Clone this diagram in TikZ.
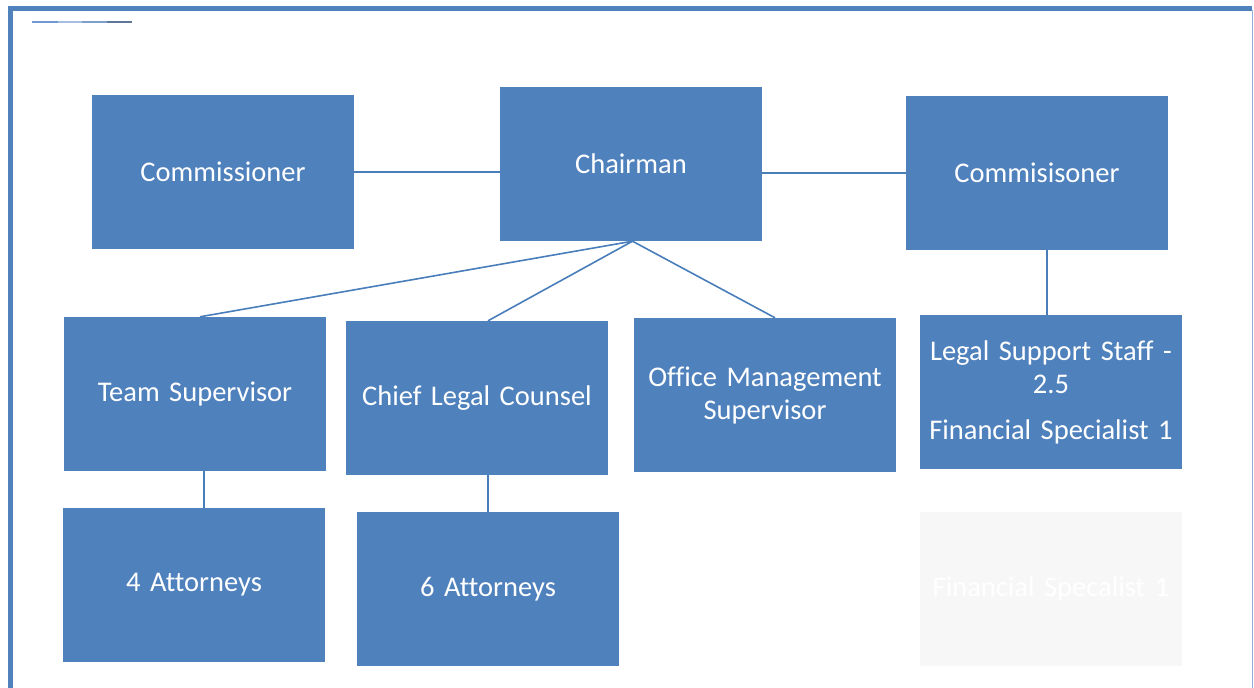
\documentclass[tikz,border=0pt]{standalone}
\usepackage{fontspec}
\setmainfont{Carlito}[Ligatures={NoCommon}]
\definecolor{boxblue}{HTML}{4F81BD}
\definecolor{linkblue}{HTML}{4A7EBB}
\definecolor{ghostgray}{HTML}{F7F7F7}
\definecolor{thinblue}{HTML}{8EB0DA}
\definecolor{markA}{HTML}{6E9AD0}
\definecolor{markB}{HTML}{A6BEDF}
\definecolor{markC}{HTML}{7E9FCB}
\definecolor{markD}{HTML}{5C7896}
\begin{document}
\begin{tikzpicture}[x=1pt,y=-1pt,
  orgbox/.style={fill=boxblue, draw=none, minimum width=262pt, minimum height=154pt,
    text width=250pt, align=center, text=white, inner sep=0pt,
    font=\fontsize{28.5}{33}\selectfont},
  ghostbox/.style={orgbox, fill=ghostgray},
  link/.style={draw=linkblue, line width=1.6pt}]
\useasboundingbox (0,0) rectangle (1254,688);
% frame
\draw[boxblue, line width=5pt] (10.8,688) -- (10.8,8.2) -- (1252,8.2);
\draw[thinblue, line width=1.2pt] (1252.7,10) -- (1252.7,688);
% small top-left mark
\draw[line width=2pt, color=markA] (32,21.5) -- (58,21.5);
\draw[line width=2pt, color=markB] (58,21.5) -- (82,21.5);
\draw[line width=2pt, color=markC] (82,21.5) -- (107,21.5);
\draw[line width=2pt, color=markD] (107,21.5) -- (132,21.5);
% boxes
\node[orgbox] (c1) at (223,172) {Commissioner};
\node[orgbox] (ch) at (631,164) {Chairman};
\node[orgbox] (c2) at (1037,173) {Commisisoner};
\node[orgbox] (ts) at (195,394) {Team Supervisor};
\node[orgbox] (cl) at (477,398) {Chief Legal Counsel};
\node[orgbox] (om) at (765,395) {Office Management\\Supervisor};
\node[orgbox] (ls) at (1051,392) {Legal Support Staff -\\2.5\\[13pt]Financial Specialist 1};
\node[orgbox] (fa) at (194,585) {4 Attorneys};
\node[orgbox] (sa) at (488,589) {6 Attorneys};
\node[ghostbox] (gh) at (1051,589) {Financial Specalist 1};
% connectors
\draw[link] (c1.east) -- (c1.east -| ch.west);
\draw[link] (c2.west -| ch.east) -- (c2.west);
\draw[link] ([xshift=1.5pt]ch.south) -- ([xshift=5pt]ts.north);
\draw[link] ([xshift=1.5pt]ch.south) -- (cl.north -| sa.north);
\draw[link] ([xshift=1.5pt]ch.south) -- ([xshift=10pt]om.north);
\draw[link] ([xshift=10pt]c2.south) -- ([xshift=10pt]c2.south |- ls.north);
\draw[link] ([xshift=9pt]ts.south) -- ([xshift=9pt]ts.south |- fa.north);
\draw[link] (cl.south -| sa.north) -- (sa.north);
\end{tikzpicture}
\end{document}
